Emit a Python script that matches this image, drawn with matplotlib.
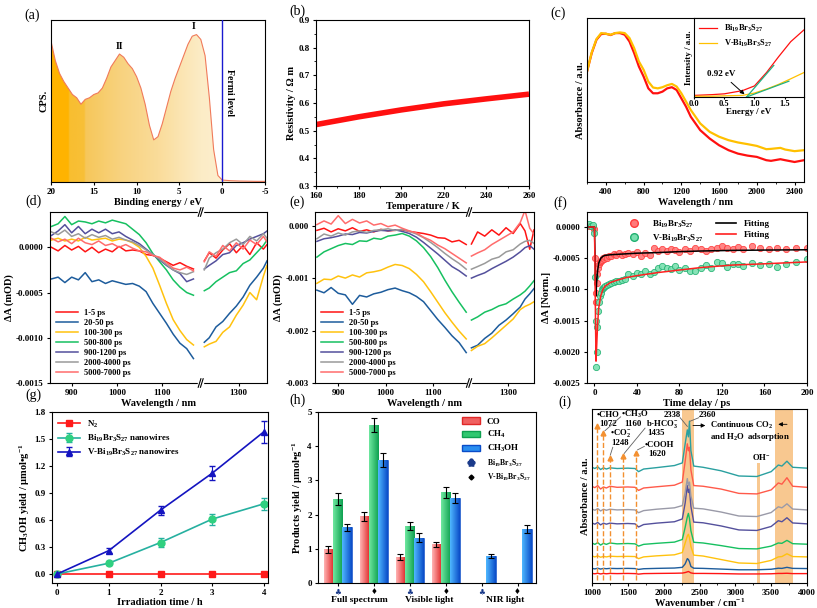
import numpy as np
import matplotlib
matplotlib.use('Agg')
import matplotlib.pyplot as plt
from matplotlib.colors import LinearSegmentedColormap
from matplotlib.patches import Patch, Rectangle
from matplotlib.lines import Line2D
from matplotlib.ticker import AutoMinorLocator, FormatStrFormatter

plt.rcParams['font.family'] = ['Liberation Serif', 'DejaVu Serif', 'DejaVu Sans']
plt.rcParams['font.weight'] = 'bold'
plt.rcParams['axes.labelweight'] = 'bold'
plt.rcParams['mathtext.fontset'] = 'custom'
plt.rcParams['mathtext.rm'] = 'Liberation Serif:bold'
plt.rcParams['mathtext.it'] = 'Liberation Serif:italic:bold'
plt.rcParams['mathtext.bf'] = 'Liberation Serif:bold'
plt.rcParams['axes.unicode_minus'] = False
plt.rcParams['xtick.labelsize'] = 6.5
plt.rcParams['ytick.labelsize'] = 6.5
plt.rcParams['axes.labelsize'] = 7.5
plt.rcParams['axes.linewidth'] = 0.8
plt.rcParams['xtick.major.size'] = 2.5
plt.rcParams['ytick.major.size'] = 2.5
plt.rcParams['xtick.minor.size'] = 1.5
plt.rcParams['ytick.minor.size'] = 1.5
plt.rcParams['xtick.major.pad'] = 2
plt.rcParams['ytick.major.pad'] = 2
plt.rcParams['axes.labelpad'] = 1.5

# ---------------- data ----------------
# (a) UPS valence band
a_be = [20, 19.5, 19, 18.5, 18, 17.5, 17, 16.5, 16, 15.5, 15, 14.5, 14, 13.5, 13, 12.5, 12, 11.5, 11, 10.5,
        10, 9.5, 9, 8.5, 8, 7.5, 7, 6.5, 6, 5.5, 5, 4.5, 4, 3.5, 3, 2.5, 2, 1.5, 1, 0.5, 0, -1, -2, -3, -4, -5]
a_cps = [0.87, 0.75, 0.67, 0.62, 0.58, 0.54, 0.52, 0.48, 0.51, 0.52, 0.54, 0.55, 0.58, 0.64, 0.71, 0.75, 0.79, 0.77,
         0.73, 0.70, 0.65, 0.58, 0.48, 0.35, 0.26, 0.28, 0.36, 0.46, 0.56, 0.64, 0.71, 0.78, 0.85, 0.90, 0.91, 0.88,
         0.78, 0.52, 0.20, 0.04, 0.012, 0.008, 0.006, 0.005, 0.004, 0.004]

# (b) resistivity
b_temp = [160, 180, 200, 220, 240, 260]
b_res = [0.522, 0.550, 0.575, 0.597, 0.615, 0.632]

# (c) absorbance
c_wl = [200, 250, 300, 350, 400, 450, 500, 550, 600, 650, 700, 750, 800, 850, 900, 950, 1000, 1050, 1100, 1150,
        1200, 1250, 1300, 1400, 1500, 1600, 1700, 1800, 1900, 2000, 2100, 2150, 2250, 2300, 2400, 2500]
c_bi = [0.673, 0.786, 0.867, 0.902, 0.904, 0.896, 0.908, 0.908, 0.898, 0.857, 0.786, 0.704, 0.643, 0.571, 0.541,
        0.541, 0.551, 0.571, 0.578, 0.561, 0.510, 0.459, 0.398, 0.316, 0.265, 0.224, 0.194, 0.173, 0.161, 0.153,
        0.133, 0.129, 0.139, 0.133, 0.122, 0.133]
c_vbi = [0.673, 0.790, 0.871, 0.908, 0.904, 0.898, 0.908, 0.912, 0.908, 0.878, 0.816, 0.735, 0.684, 0.612, 0.576,
         0.571, 0.578, 0.590, 0.598, 0.582, 0.541, 0.490, 0.439, 0.357, 0.306, 0.276, 0.255, 0.241, 0.231, 0.220,
         0.200, 0.202, 0.208, 0.198, 0.188, 0.194]
c_en = [0.0, 0.3, 0.5, 0.8, 1.0, 1.2, 1.4, 1.6, 1.82]
c_tauc_bi = [0.02, 0.03, 0.04, 0.08, 0.14, 0.31, 0.51, 0.70, 0.85]
c_tauc_vbi = [0.01, 0.01, 0.015, 0.02, 0.05, 0.10, 0.16, 0.23, 0.31]

# (d)/(e) transient absorption, values in 1e-4 mOD
tas_labels = ['1-5 ps', '20-50 ps', '100-300 ps', '500-800 ps', '900-1200 ps', '2000-4000 ps', '5000-7000 ps']
tas_colors = ['#ff1414', '#1d5c9c', '#ffc20e', '#16c060', '#54509c', '#9a9a9a', '#ff6c6c']
tas_xl = [855, 870, 885, 900, 915, 930, 945, 960, 975, 990, 1005, 1020, 1035, 1050, 1065, 1080, 1095, 1110, 1125,
          1140, 1155, 1170]
d_xr = [1224, 1235, 1250, 1265, 1280, 1295, 1310, 1325, 1340, 1355, 1363]
e_xr = [1222, 1235, 1250, 1265, 1280, 1295, 1310, 1325, 1335, 1345, 1354]

d_left = [
    [0.0, -0.4, 0.2, -0.3, 0.1, -0.5, 0.0, -0.6, -0.2, -0.5, 0.1, -0.4, -0.3, -0.4, -0.8, -0.9, -1.2, -1.6, -2.0, -1.7, -2.1, -2.4],
    [-3.5, -3.3, -3.9, -3.3, -3.6, -2.8, -3.8, -3.6, -4.0, -3.7, -3.9, -4.1, -4.0, -4.3, -4.9, -6.2, -7.3, -8.4, -9.6, -10.6, -11.2, -12.3],
    [0.8, 1.0, 0.7, 0.9, 0.7, 1.1, 0.8, 0.9, 1.0, 0.7, 0.9, 0.8, 0.5, 0.0, -1.0, -2.3, -4.2, -6.2, -8.0, -9.2, -10.2, -10.8],
    [2.3, 2.6, 3.4, 2.5, 2.9, 2.8, 2.6, 2.9, 2.7, 3.0, 2.8, 2.6, 2.0, 1.4, 0.5, -0.7, -1.6, -2.5, -3.6, -4.4, -5.0, -5.3],
    [1.3, 1.8, 2.5, 1.6, 2.3, 1.5, 2.0, 1.6, 2.0, 1.5, 1.7, 1.2, 0.8, 0.4, -0.2, -0.8, -1.4, -2.0, -2.5, -2.9, -3.8, -3.5],
    [1.7, 1.4, 1.9, 1.2, 1.5, 1.0, 1.4, 1.1, 1.3, 0.9, 1.1, 0.8, 0.6, 0.2, -0.3, -0.8, -1.3, -1.9, -2.5, -2.8, -3.0, -2.7],
    [1.0, 0.6, 0.9, 0.4, 1.0, 0.5, 0.3, 0.7, 0.2, 0.4, 0.0, 0.3, -0.1, -0.4, -0.5, -0.9, -1.1, -1.7, -2.3, -2.5, -2.2, -2.6],
]
d_right = [
    [-1.5, -0.6, -1.2, -0.3, 0.4, -0.6, 0.2, -0.8, 0.5, -0.2, 0.3],
    [-10.5, -10.0, -8.8, -8.2, -7.3, -6.5, -5.5, -4.2, -3.3, -2.3, -1.5],
    [-11.0, -10.7, -10.4, -9.4, -8.8, -7.5, -6.4, -5.0, -5.8, -3.2, -2.0],
    [-4.8, -4.5, -3.8, -3.3, -2.8, -2.6, -1.8, -1.4, -0.6, 0.2, 0.8],
    [-2.4, -2.0, -1.5, -0.8, -0.6, 0.2, 0.5, 0.9, 1.2, 1.5, 1.8],
    [-2.5, -1.2, -0.6, -0.2, 0.5, 0.9, 0.3, 1.2, 0.7, 1.5, 1.0],
    [-1.6, -0.5, -1.0, 0.2, -0.4, 0.5, -0.2, 0.8, 0.3, 1.2, 0.6],
]
e_left = [
    [-0.9, -0.5, -1.2, -0.6, -1.0, -0.4, -1.1, -0.8, -1.2, -0.7, -1.0, -0.9, -0.8, -1.1, -1.3, -1.5, -1.8, -2.3, -2.4, -3.1, -2.8, -3.6],
    [-12.3, -12.8, -11.8, -12.9, -13.2, -15.0, -13.3, -13.6, -13.0, -12.7, -12.2, -11.9, -12.4, -12.8, -13.5, -14.5, -16.2, -17.9, -19.4, -21.0, -22.3, -24.2],
    [-11.0, -10.2, -10.3, -9.6, -10.0, -9.4, -9.8, -9.0, -8.8, -8.5, -7.9, -7.4, -7.6, -8.2, -9.3, -10.7, -12.6, -14.6, -16.6, -18.4, -20.1, -21.6],
    [-6.0, -5.0, -4.4, -3.8, -3.4, -3.6, -2.9, -3.0, -2.4, -2.6, -2.0, -1.8, -1.5, -2.0, -2.9, -4.2, -5.9, -8.0, -10.4, -12.6, -14.6, -16.5],
    [-3.0, -2.5, -2.3, -2.0, -1.6, -1.7, -1.3, -1.4, -1.1, -0.9, -1.0, -0.8, -1.1, -1.5, -2.2, -3.2, -4.3, -5.4, -6.6, -7.8, -8.6, -9.6],
    [-2.5, -1.6, -2.0, -1.4, -1.8, -1.2, -1.0, -1.3, -0.9, -0.8, -0.6, -0.9, -0.7, -1.1, -1.6, -2.3, -3.2, -4.2, -5.3, -6.3, -7.2, -8.3],
    [0.2, 0.9, 0.3, 1.9, 0.4, 1.2, 0.5, 0.9, 0.1, 0.4, -0.2, 0.1, -0.5, -1.0, -1.4, -2.2, -2.8, -3.7, -4.4, -5.3, -6.2, -7.1],
]
e_right = [
    [-3.5, -1.2, -2.0, -0.8, -1.8, -0.4, -1.5, 0.4, -1.0, -4.5, -0.8],
    [-23.3, -22.8, -21.5, -20.5, -19.0, -18.0, -16.8, -15.5, -14.0, -13.0, -12.0],
    [-23.8, -23.0, -22.5, -21.4, -20.2, -19.0, -17.8, -16.0, -15.4, -15.0, -14.5],
    [-18.0, -17.4, -16.5, -16.0, -15.3, -14.9, -14.0, -13.2, -12.5, -11.5, -10.5],
    [-10.0, -9.5, -9.0, -8.2, -7.5, -6.8, -6.0, -5.0, -4.2, -3.8, -4.5],
    [-8.3, -7.8, -7.2, -6.4, -6.0, -5.0, -4.6, -3.5, -3.0, -2.8, -3.4],
    [-5.8, -5.2, -4.6, -3.6, -2.8, -2.0, -1.2, 0.6, 2.9, -0.5, -1.6],
]

# (f) kinetics, values in 1e-4
f_t = [-5, -3, -1, 0, 0.5, 1, 1.5, 2, 2.5, 3, 4, 5, 6, 7, 8, 9, 10, 12, 14, 16, 18, 20, 23, 26, 29, 32, 36, 40,
       44, 48, 52, 56, 60, 64, 68, 72, 76, 80, 85, 90, 95, 100, 105, 110, 115, 120, 125, 130, 135, 140, 148, 156,
       164, 172, 180, 190, 200]
f_bi = [0.2, 0.1, 0.0, -0.3, -5.0, -10.5, -12.0, -9.0, -7.5, -6.5, -6.0, -5.6, -5.4, -5.3, -5.0, -5.1, -4.8, -4.9,
        -4.6, -4.7, -4.4, -4.5, -4.2, -4.5, -4.3, -4.1, -4.4, -4.0, -4.6, -4.2, -4.5, -3.3, -3.8, -3.6, -3.9, -3.5,
        -3.7, -4.0, -3.6, -3.8, -3.4, -3.6, -3.9, -3.5, -3.3, -3.1, -3.4, -3.6, -3.2, -3.5, -3.1, -3.4, -3.6, -3.3,
        -3.5, -3.3, -3.4]
f_vbi = [0.4, 0.2, 0.3, -1.0, -8.0, -15.0, -22.5, -20.0, -16.0, -13.5, -12.0, -11.0, -10.5, -10.0, -9.8, -9.6, -9.5,
         -9.3, -9.2, -9.0, -8.8, -8.7, -8.6, -8.5, -8.3, -7.6, -7.9, -7.3, -7.6, -7.0, -7.5, -7.2, -6.6, -6.2, -6.5,
         -6.8, -6.3, -6.9, -6.6, -7.1, -7.0, -6.6, -6.1, -6.5, -5.6, -5.8, -6.4, -6.0, -5.9, -6.3, -5.8, -6.1, -6.0,
         -6.4, -5.9, -5.6, -5.2]
f_fit_t = [-5, 0, 0.5, 1, 1.5, 2, 3, 4, 6, 8, 10, 15, 20, 30, 40, 60, 80, 100, 130, 160, 200]
f_fit_bi = [0, 0, -4, -9, -11, -9.0, -7.0, -5.8, -5.0, -4.7, -4.55, -4.45, -4.4, -4.3, -4.2, -4.1, -3.95, -3.85,
            -3.75, -3.7, -3.65]
f_fit_vbi = [0, 0, -6, -15, -21.5, -19.5, -15.5, -13, -11, -10, -9.5, -8.9, -8.6, -8.1, -7.8, -7.3, -6.9, -6.5,
             -6.1, -5.9, -5.6]

# (g) CH3OH yield
g_time = [0, 1, 2, 3, 4]
g_n2 = [0, 0, 0, 0, 0]
g_bi = [0, 0.12, 0.35, 0.61, 0.78]
g_bi_err = [0.01, 0.02, 0.05, 0.06, 0.07]
g_vbi = [0, 0.26, 0.71, 1.12, 1.58]
g_vbi_err = [0.01, 0.03, 0.05, 0.08, 0.12]

# (h) products
h_groups = ['Full spectrum', 'Visible light', 'NIR light']
h_co = [0.98, 1.95, 0.76, 1.13, 0, 0]
h_co_err = [0.10, 0.13, 0.10, 0.08, 0, 0]
h_ch4 = [2.45, 4.62, 1.67, 2.65, 0, 0]
h_ch4_err = [0.18, 0.20, 0.11, 0.15, 0, 0]
h_meoh = [1.63, 3.60, 1.32, 2.48, 0.79, 1.58]
h_meoh_err = [0.10, 0.20, 0.13, 0.14, 0.07, 0.12]

# (i) in-situ DRIFTS
i_wn = [1000, 1040, 1080, 1120, 1160, 1200, 1250, 1350, 1500, 1600, 1650, 1720, 1900, 2150, 2260, 2300, 2330, 2345,
        2360, 2380, 2420, 2550, 2800, 3050, 3300, 3500, 3600, 3650, 3720, 3800, 4000]
i_spectra = [
    ('#ff1414', [0.055, 0.053, 0.056, 0.052, 0.055, 0.053, 0.055, 0.054, 0.055, 0.054, 0.051, 0.054, 0.055, 0.056,
                 0.057, 0.060, 0.064, 0.066, 0.063, 0.058, 0.055, 0.055, 0.054, 0.052, 0.052, 0.053, 0.055, 0.055,
                 0.056, 0.054, 0.054]),
    ('#1d5c9c', [0.084, 0.081, 0.085, 0.080, 0.084, 0.082, 0.084, 0.083, 0.084, 0.083, 0.078, 0.082, 0.084, 0.086,
                 0.090, 0.110, 0.140, 0.135, 0.122, 0.095, 0.085, 0.084, 0.080, 0.076, 0.076, 0.079, 0.085, 0.084,
                 0.090, 0.084, 0.083]),
    ('#ffc20e', [0.155, 0.150, 0.156, 0.148, 0.153, 0.150, 0.154, 0.152, 0.153, 0.152, 0.140, 0.150, 0.156, 0.162,
                 0.175, 0.230, 0.270, 0.280, 0.260, 0.210, 0.160, 0.155, 0.135, 0.115, 0.112, 0.130, 0.150, 0.152,
                 0.168, 0.152, 0.150]),
    ('#16c060', [0.230, 0.222, 0.232, 0.218, 0.228, 0.222, 0.230, 0.225, 0.227, 0.225, 0.212, 0.222, 0.228, 0.235,
                 0.250, 0.320, 0.380, 0.400, 0.370, 0.300, 0.234, 0.230, 0.215, 0.198, 0.196, 0.212, 0.230, 0.228,
                 0.245, 0.226, 0.223]),
    ('#54509c', [0.345, 0.338, 0.348, 0.334, 0.344, 0.338, 0.344, 0.340, 0.342, 0.340, 0.322, 0.336, 0.344, 0.352,
                 0.368, 0.460, 0.560, 0.520, 0.540, 0.440, 0.350, 0.346, 0.328, 0.305, 0.302, 0.325, 0.358, 0.352,
                 0.375, 0.345, 0.340]),
    ('#9a9aa8', [0.425, 0.418, 0.428, 0.414, 0.424, 0.418, 0.424, 0.420, 0.422, 0.420, 0.404, 0.416, 0.424, 0.432,
                 0.445, 0.520, 0.600, 0.560, 0.580, 0.500, 0.430, 0.426, 0.408, 0.385, 0.382, 0.405, 0.438, 0.432,
                 0.455, 0.425, 0.420]),
    ('#ff5a4a', [0.555, 0.548, 0.560, 0.540, 0.552, 0.546, 0.556, 0.550, 0.552, 0.550, 0.532, 0.546, 0.553, 0.562,
                 0.580, 0.700, 0.800, 0.760, 0.780, 0.650, 0.560, 0.556, 0.540, 0.515, 0.512, 0.535, 0.575, 0.568,
                 0.605, 0.556, 0.550]),
    ('#2aa0a0', [0.665, 0.658, 0.668, 0.652, 0.662, 0.655, 0.662, 0.658, 0.660, 0.658, 0.640, 0.655, 0.663, 0.675,
                 0.690, 0.800, 0.880, 0.840, 0.930, 0.760, 0.672, 0.665, 0.645, 0.615, 0.612, 0.640, 0.678, 0.672,
                 0.700, 0.665, 0.660]),
]
i_marks = [1072, 1160, 1248, 1435, 1620]
i_mark_top = [0.90, 0.86, 0.72, 0.73, 0.75]

W, H = 817, 608


def rect(l, t, r, b):
    return [l / W, 1 - b / H, (r - l) / W, (b - t) / H]


def add_break(ax, xb):
    tr = ax.get_xaxis_transform()
    for yy in (0, 1):
        ax.add_patch(Rectangle((xb - 5, yy - 0.02), 10, 0.04, transform=tr, color='white', clip_on=False, zorder=5))
        for dx in (-2.5, 2.5):
            ax.plot([xb + dx - 3, xb + dx + 3], [yy - 0.025, yy + 0.025], transform=tr, color='k', lw=0.8,
                    clip_on=False, zorder=6)


fig = plt.figure(figsize=(8.17, 6.08), dpi=100)

# ---------------- (a) ----------------
ax = fig.add_axes(rect(51, 20, 265, 182))
poly = ax.fill_between(a_be, a_cps, 0, color='none', lw=0)
cm_a = LinearSegmentedColormap.from_list('a', [(0, '#fdf4e0'), (0.3, '#fcecc6'), (0.5, '#fadc9a'),
                                               (0.68, '#f8d27e'), (0.84, '#f6c75a'), (0.845, '#f8c038'),
                                               (0.915, '#f8be30'), (0.92, '#ffb400'), (1, '#ffb300')])
im = ax.imshow(np.linspace(0, 1, 256).reshape(1, -1), extent=[-5, 20, 0, 1], aspect='auto', cmap=cm_a, zorder=1)
im.set_clip_path(poly.get_paths()[0], transform=ax.transData)
ax.plot(a_be, a_cps, color='#f07a5a', lw=0.8, zorder=2)
ax.axvline(0, color='#1a1ad0', lw=1.0, zorder=3)
ax.set_xlim(20, -5)
ax.set_ylim(0, 1)
ax.set_xticks([20, 15, 10, 5, 0, -5])
ax.set_yticks([])
ax.set_xlabel('Binding energy / eV')
ax.set_ylabel('CPS.')
ax.text(3.3, 0.93, 'I', ha='center', va='bottom', fontsize=7)
ax.text(12.0, 0.81, 'II', ha='center', va='bottom', fontsize=7)
ax.text(-0.9, 0.55, 'Fermi level', rotation=270, ha='center', va='center', fontsize=7)

# ---------------- (b) ----------------
ax = fig.add_axes(rect(316, 20, 529, 186))
ax.plot(b_temp, b_res, color='#ff1010', lw=4, solid_capstyle='butt')
ax.set_xlim(160, 260)
ax.set_ylim(0.3, 0.9)
ax.set_xticks(range(160, 261, 20))
ax.set_yticks(np.arange(0.3, 0.91, 0.1))
ax.yaxis.set_major_formatter(FormatStrFormatter('%.1f'))
ax.xaxis.set_minor_locator(AutoMinorLocator(2))
ax.yaxis.set_minor_locator(AutoMinorLocator(2))
ax.set_xlabel('Temperature / K')
ax.set_ylabel('Resistivity / Ω m')

# ---------------- (c) ----------------
ax = fig.add_axes(rect(587, 18, 804, 182))
ax.plot(c_wl, c_bi, color='#ff1010', lw=1.6)
ax.plot(c_wl, c_vbi, color='#ffc000', lw=1.6)
ax.set_xlim(200, 2500)
ax.set_ylim(0, 1)
ax.set_xticks(range(400, 2401, 400))
ax.xaxis.set_minor_locator(AutoMinorLocator(2))
ax.set_yticks([])
ax.set_xlabel('Wavelength / nm')
ax.set_ylabel('Absorbance / a.u.')

axi = fig.add_axes(rect(694, 18, 804, 97))
axi.plot(c_en, c_tauc_bi, color='#ff1010', lw=0.9, label='Bi$_{19}$Br$_3$S$_{27}$')
axi.plot(c_en, c_tauc_vbi, color='#ffc000', lw=0.9, label='V-Bi$_{19}$Br$_3$S$_{27}$')
axi.plot([0.87, 1.32], [0.0, 0.40], color='#20b080', lw=0.9)
axi.plot([0.87, 1.57], [0.0, 0.20], color='#20b080', lw=0.9)
axi.annotate('0.92 eV', xy=(0.87, 0.01), xytext=(0.22, 0.27), fontsize=6.5,
             arrowprops=dict(arrowstyle='-|>', color='k', lw=0.7, mutation_scale=6))
axi.set_xlim(0, 1.82)
axi.set_ylim(0, 1)
axi.set_xticks([0, 0.5, 1.0, 1.5])
axi.xaxis.set_major_formatter(FormatStrFormatter('%.1f'))
axi.set_yticks([])
axi.tick_params(labelsize=6, length=1.5, pad=1)
axi.set_xlabel('Energy / eV', fontsize=6.5, labelpad=0)
axi.set_ylabel('Intensity / a.u.', fontsize=6.5, labelpad=1)
axi.legend(loc='upper left', fontsize=6, frameon=False, handlelength=2.2, borderaxespad=0.2, labelspacing=0.4)


# ---------------- (d) & (e) ----------------
def draw_tas(rc, left, right, xr, off, xlim, brk, ylim, yticks, fmt):
    ax = fig.add_axes(rect(*rc))
    for lab, c, lv, rv in zip(tas_labels, tas_colors, left, right):
        ax.plot(tas_xl, np.array(lv) * 1e-4, color=c, lw=1.1, label=lab)
        ax.plot(np.array(xr) - off, np.array(rv) * 1e-4, color=c, lw=1.1)
    ax.set_xlim(*xlim)
    ax.set_ylim(*ylim)
    ax.set_xticks([900, 1000, 1100, 1300 - off])
    ax.set_xticklabels(['900', '1000', '1100', '1300'])
    ax.set_yticks(yticks)
    ax.yaxis.set_major_formatter(FormatStrFormatter(fmt))
    ax.set_xlabel('Wavelength / nm')
    ax.set_ylabel('ΔA (mOD)')
    add_break(ax, brk)
    ax.legend(loc='lower left', fontsize=6, frameon=False, handlelength=2.6, labelspacing=0.25,
              borderaxespad=0.3)
    return ax


draw_tas((50, 212, 267, 383), d_left, d_right, d_xr, 30, (852, 1333), 1186, (-0.0015, 0.00039),
         [0, -0.0005, -0.0010, -0.0015], '%.4f')
draw_tas((315, 212, 534, 383), e_left, e_right, e_xr, 41, (851, 1313), 1176, (-0.003, 0.00026),
         [0, -0.001, -0.002, -0.003], '%.3f')

# ---------------- (f) ----------------
ax = fig.add_axes(rect(587, 212, 807, 383))
ax.plot(f_t, np.array(f_bi) * 1e-4, 'o', ms=4.5, mfc='#ff7a7a', mec='#ff3a3a', mew=0.6, alpha=0.9)
ax.plot(f_t, np.array(f_vbi) * 1e-4, 'o', ms=4.5, mfc='#7ae0b0', mec='#20b070', mew=0.6, alpha=0.9)
ax.plot(f_fit_t, np.array(f_fit_bi) * 1e-4, color='k', lw=1.1)
ax.plot(f_fit_t, np.array(f_fit_vbi) * 1e-4, color='#ff2020', lw=1.1)
ax.set_xlim(-7, 200)
ax.set_ylim(-0.0025, 0.00024)
ax.set_xticks(range(0, 201, 40))
ax.set_yticks([0, -0.0005, -0.0010, -0.0015, -0.0020, -0.0025])
ax.yaxis.set_major_formatter(FormatStrFormatter('%.4f'))
ax.set_xlabel('Time delay / ps')
ax.set_ylabel('ΔA [Norm.]')
f_handles = [Line2D([], [], ls='none', marker='o', ms=5.5, mfc='#ff7a7a', mec='#ff3a3a'),
             Line2D([], [], ls='none', marker='o', ms=5.5, mfc='#7ae0b0', mec='#20b070'),
             Line2D([], [], color='k', lw=1.2), Line2D([], [], color='#ff2020', lw=1.2)]
ax.legend(f_handles, ['Bi$_{19}$Br$_3$S$_{27}$', 'V-Bi$_{19}$Br$_3$S$_{27}$', 'Fitting', 'Fitting'], ncol=2,
          loc='upper center', bbox_to_anchor=(0.5, 1.01), fontsize=6.5, frameon=False, columnspacing=1.5,
          labelspacing=0.3, handlelength=2.2)

# ---------------- (g) ----------------
ax = fig.add_axes(rect(52, 412, 268, 583))
ax.plot(g_time, g_n2, '-s', color='#ff1a1a', ms=4.5, lw=1.2, label='N$_2$')
ax.errorbar(g_time, g_bi, yerr=g_bi_err, fmt='-o', color='#26b0a0', mfc='#30d080', mec='#30d080', ms=5,
            lw=1.2, capsize=2, elinewidth=0.8, label='Bi$_{19}$Br$_3$S$_{27}$ nanowires')
ax.errorbar(g_time, g_vbi, yerr=g_vbi_err, fmt='-^', color='#1414c0', ms=5, lw=1.2, capsize=2, elinewidth=0.8,
            label='V-Bi$_{19}$Br$_3$S$_{27}$ nanowires')
ax.set_xlim(-0.1, 4.08)
ax.set_ylim(-0.1, 1.8)
ax.set_xticks(g_time)
ax.set_yticks(np.arange(0, 1.81, 0.3))
ax.yaxis.set_major_formatter(FormatStrFormatter('%.1f'))
ax.tick_params(axis='x', pad=1.5)
ax.set_xlabel('Irradiation time / h', labelpad=1)
ax.set_ylabel('CH$_3$OH yield / μmol•g$^{-1}$')
ax.legend(loc='upper left', fontsize=6.5, frameon=False, handlelength=2.4, labelspacing=0.35, borderaxespad=0.3)

# ---------------- (h) ----------------
ax = fig.add_axes(rect(318, 412, 536, 583))
h_pos = np.arange(6)
bw = 0.26
h_series = [(h_co, h_co_err, '#ffb4b4', '#e02828', -bw), (h_ch4, h_ch4_err, '#6fe8a0', '#0ea050', 0),
            (h_meoh, h_meoh_err, '#50b8ff', '#0a4cc8', bw)]
for vals, errs, cl, cd, dx in h_series:
    for x, v, e in zip(h_pos, vals, errs):
        if v <= 0:
            continue
        bar = ax.bar(x + dx, v, bw, color=cd, edgecolor=cd, lw=0.4, zorder=2)
        cmap = LinearSegmentedColormap.from_list('bar', [cl, cd])
        im = ax.imshow(np.linspace(0, 1, 64).reshape(1, -1), extent=[x + dx - bw / 2, x + dx + bw / 2, 0, v],
                       aspect='auto', cmap=cmap, zorder=2.1)
        im.set_clip_path(bar[0])
        ax.errorbar(x + dx, v, yerr=e, color='k', capsize=2, elinewidth=0.8, capthick=0.8, zorder=3)
ax.set_xlim(-0.55, 5.51)
ax.set_ylim(0, 5)
ax.set_aspect('auto')
ax.set_yticks(range(6))
ax.set_xticks(h_pos)
ax.set_xticklabels(['♣', '♦'] * 3, fontsize=5.5, family=['DejaVu Sans'])
ax.tick_params(axis='x', length=2, pad=1)
for lbl, c in zip(ax.get_xticklabels(), ['#1a3a8a', 'k'] * 3):
    lbl.set_color(c)
for gx, g in zip([0.6, 2.55, 4.65], h_groups):
    ax.text(gx, -0.1, g, transform=ax.get_xaxis_transform(), ha='center', va='center', fontsize=6.8)
ax.set_ylabel('Products yield / μmol•g$^{-1}$')
h_handles = [Patch(facecolor='#f06060', edgecolor='#e02828'), Patch(facecolor='#30c870', edgecolor='#0ea050'),
             Patch(facecolor='#2a8ef0', edgecolor='#0a4cc8'),
             Line2D([], [], ls='none', marker=r'$\clubsuit$', color='#1a3a8a', ms=5),
             Line2D([], [], ls='none', marker='D', color='k', ms=2.5)]
leg = ax.legend(h_handles, ['CO', 'CH$_4$', 'CH$_3$OH', 'Bi$_{19}$Br$_3$S$_{27}$', 'V-Bi$_{19}$Br$_3$S$_{27}$'],
                loc='upper right', fontsize=6.5, frameon=False, handlelength=2.0, labelspacing=0.35,
                borderaxespad=0.2)
for t in leg.get_texts()[3:]:
    t.set_fontsize(5.5)

# ---------------- (i) ----------------
ax = fig.add_axes(rect(592, 409, 807, 583))
ax.axvspan(2250, 2430, color='#f8c890', lw=0, zorder=0)
ax.axvspan(3550, 3810, color='#f8c890', lw=0, zorder=0)
ax.fill_between([3300, 3340], 0, 0.69, color='#f8c890', lw=0, zorder=0)
for c, spec in i_spectra:
    ax.plot(i_wn, spec, color=c, lw=1.0, zorder=2)
for x, top in zip(i_marks, i_mark_top):
    ax.plot([x, x], [0.02, top], ls='--', color='#f39030', lw=1.0, zorder=3)
    ax.plot(x, top, marker='^', color='#f39030', ms=3.5, zorder=3)
fs = 6.3
ax.text(1060, 0.965, '•CHO', fontsize=fs, va='center')
ax.text(1105, 0.914, '1072', fontsize=fs, va='center')
ax.text(1410, 0.971, '•CH$_3$O', fontsize=fs, va='center')
ax.text(1455, 0.914, '1160', fontsize=fs, va='center')
ax.text(1245, 0.864, '•CO$_2^{-}$', fontsize=fs, va='center')
ax.text(1270, 0.806, '1248', fontsize=fs, va='center')
ax.text(1750, 0.914, 'b-HCO$_3^{-}$', fontsize=fs, va='center')
ax.text(1770, 0.860, '1435', fontsize=fs, va='center')
ax.text(1735, 0.793, '•COOH', fontsize=fs, va='center')
ax.text(1785, 0.739, '1620', fontsize=fs, va='center')
ax.text(2000, 0.965, '2338', fontsize=fs, va='center')
ax.text(2495, 0.965, '2360', fontsize=fs, va='center')
ax.text(2640, 0.908, 'Continuous CO$_2$', fontsize=fs, va='center')
ax.text(2640, 0.841, 'and H$_2$O  adsorption', fontsize=fs, va='center')
ax.text(3230, 0.726, 'OH$^{-}$', fontsize=fs, va='center')
line_kw = dict(color='#606060', lw=0.6, zorder=4)
ax.plot([1400, 1180], [0.955, 0.875], **line_kw)
ax.plot([1290, 1255], [0.78, 0.735], **line_kw)
ax.plot([1740, 1450], [0.89, 0.745], **line_kw)
ax.plot([1730, 1635], [0.785, 0.765], **line_kw)
ax.plot([2230, 2330], [0.95, 0.90], **line_kw)
ax.plot([2490, 2370], [0.95, 0.93], **line_kw)
ax.annotate('', xy=(2620, 0.905), xytext=(2370, 0.905),
            arrowprops=dict(arrowstyle='-|>', color='k', lw=0.6, mutation_scale=6))
ax.annotate('', xy=(3560, 0.912), xytext=(3760, 0.912),
            arrowprops=dict(arrowstyle='-|>', color='k', lw=0.6, mutation_scale=6))
ax.set_xlim(1000, 4000)
ax.set_ylim(0, 1)
ax.set_xticks(range(1000, 4001, 500))
ax.xaxis.set_minor_locator(AutoMinorLocator(2))
ax.tick_params(axis='x', pad=1.5)
ax.set_yticks([])
ax.set_xlabel('Wavenumber / cm$^{-1}$', labelpad=0)
ax.set_ylabel('Absorbance / a.u.')

# ---------------- panel labels ----------------
for lab, x, y in [('(a)', 32, 15), ('(b)', 297, 11), ('(c)', 558, 13), ('(d)', 33, 201), ('(e)', 297, 202),
                  ('(f)', 560, 203), ('(g)', 33, 395), ('(h)', 298, 400), ('(i)', 565, 402)]:
    fig.text(x / W, 1 - y / H, lab, fontsize=10, fontweight='normal', ha='center', va='center')

fig.savefig('out.png', dpi=100)
